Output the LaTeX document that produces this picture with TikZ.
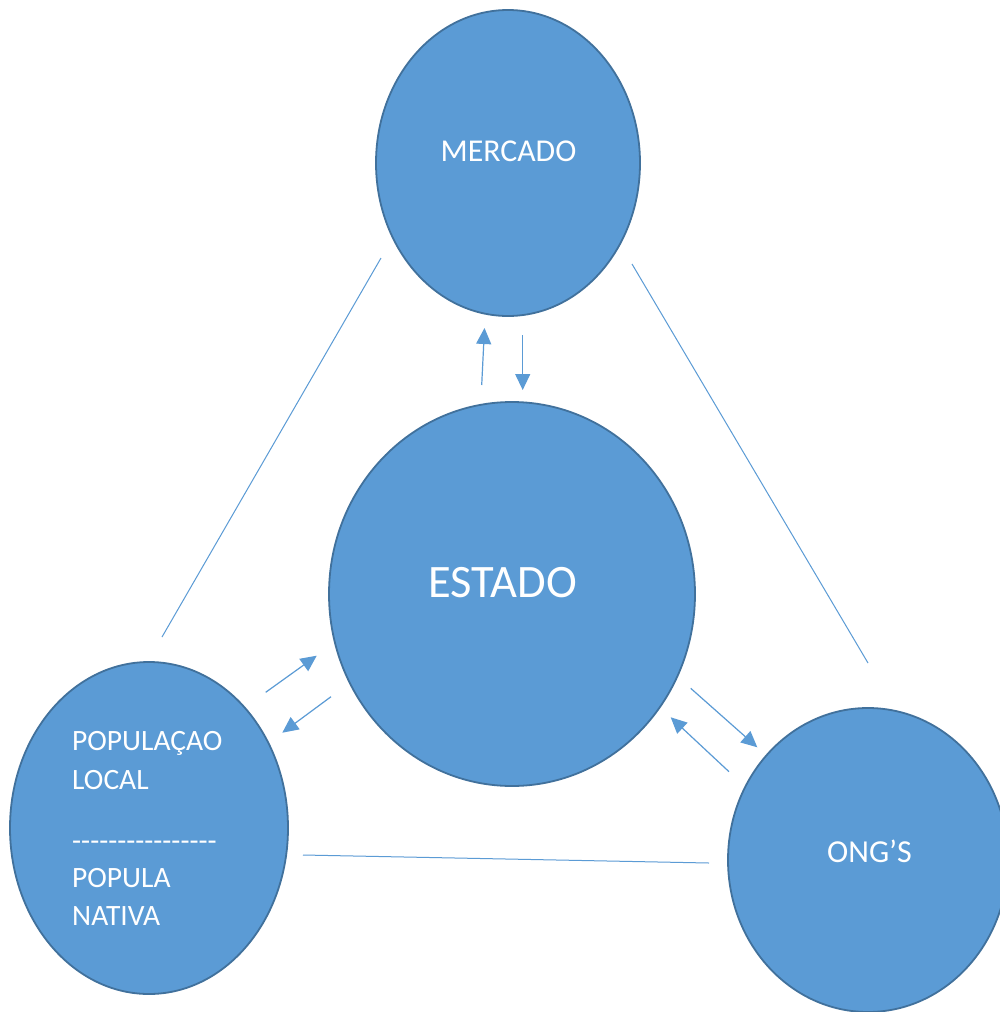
\documentclass[tikz,border=0pt]{standalone}
\usepackage{fontspec}
\setmainfont{Carlito}
\usetikzlibrary{arrows.meta,shapes.geometric}
\definecolor{shapefill}{HTML}{5B9BD5}
\definecolor{shapeedge}{HTML}{41719C}
\newcommand\hy{\mbox{-}}
\begin{document}
\begin{tikzpicture}[x=1pt,y=-1pt,
  actor/.style={ellipse, draw=shapeedge, fill=shapefill, line width=1.8pt, inner sep=0pt},
  caption/.style={text=white, inner sep=0pt, anchor=base},
  sidetext/.style={text=white, inner sep=0pt, anchor=base west, font=\fontsize{29.5}{35}\selectfont},
  link/.style={draw=shapefill, line width=1pt},
  flow/.style={draw=shapefill, line width=1.2pt, -{Triangle[length=16pt,width=15pt]}}]
  \clip (0,0) rectangle (1000,1012);
  \fill[white] (0,0) rectangle (1000,1012);

  % actors
  \node[actor, minimum width=264pt, minimum height=306pt] (merc) at (508,163) {};
  \node[actor, minimum width=366pt, minimum height=384pt] (estado) at (512,594) {};
  \node[actor, minimum width=278pt, minimum height=332pt] (popl) at (149,828) {};
  \node[actor, minimum width=280pt, minimum height=304pt] (ongs) at (868,860) {};

  % captions
  \node[caption, font=\fontsize{31.8}{38}\selectfont] (mercText) at (508.5,161.7) {MERCADO};
  \node[caption, font=\fontsize{46.5}{54}\selectfont] (estadoText) at (502.5,597) {ESTADO};
  \node[caption, font=\fontsize{32}{38}\selectfont] (ongsText) at (869.5,862) {ONG’S};
  \node[sidetext] (poplA) at (72,750) {POPULAÇAO};
  \node[sidetext] (poplB) at (72,789) {LOCAL};
  \node[sidetext] (poplSep) at (72,850) {\hy\hy\hy\hy\hy\hy\hy\hy\hy\hy\hy\hy\hy\hy\hy\hy};
  \node[sidetext] (poplC) at (72,887) {POPULA};
  \node[sidetext] (poplD) at (72,925) {NATIVA};

  % ends of the outer links
  \coordinate (mercL) at (381,258);
  \coordinate (poplT) at (162,637);
  \coordinate (mercR) at (632,264);
  \coordinate (ongsT) at (868,663);
  \coordinate (poplR) at (303,855);
  \coordinate (ongsL) at (709,863);
  \draw[link] (mercL) -- (poplT);
  \draw[link] (mercR) -- (ongsT);
  \draw[link] (poplR) -- (ongsL);

  % ends of the exchange arrows
  \coordinate (estUpA) at (481.7,385);
  \coordinate (mercDnA) at (484.5,328);
  \coordinate (mercDnB) at (522.7,335);
  \coordinate (estUpB) at (522.7,390);
  \coordinate (poplNE) at (265.7,692.3);
  \coordinate (estSW) at (316.7,655.7);
  \coordinate (estW) at (331,696.7);
  \coordinate (poplE) at (282.3,732.7);
  \coordinate (estSE) at (690.7,688.3);
  \coordinate (ongsNW) at (757.3,747.3);
  \coordinate (ongsW) at (729,771.7);
  \coordinate (estE) at (670.7,717.3);
  \draw[flow] (estUpA) -- (mercDnA);
  \draw[flow] (mercDnB) -- (estUpB);
  \draw[flow] (poplNE) -- (estSW);
  \draw[flow] (estW) -- (poplE);
  \draw[flow] (estSE) -- (ongsNW);
  \draw[flow] (ongsW) -- (estE);
\end{tikzpicture}
\end{document}
